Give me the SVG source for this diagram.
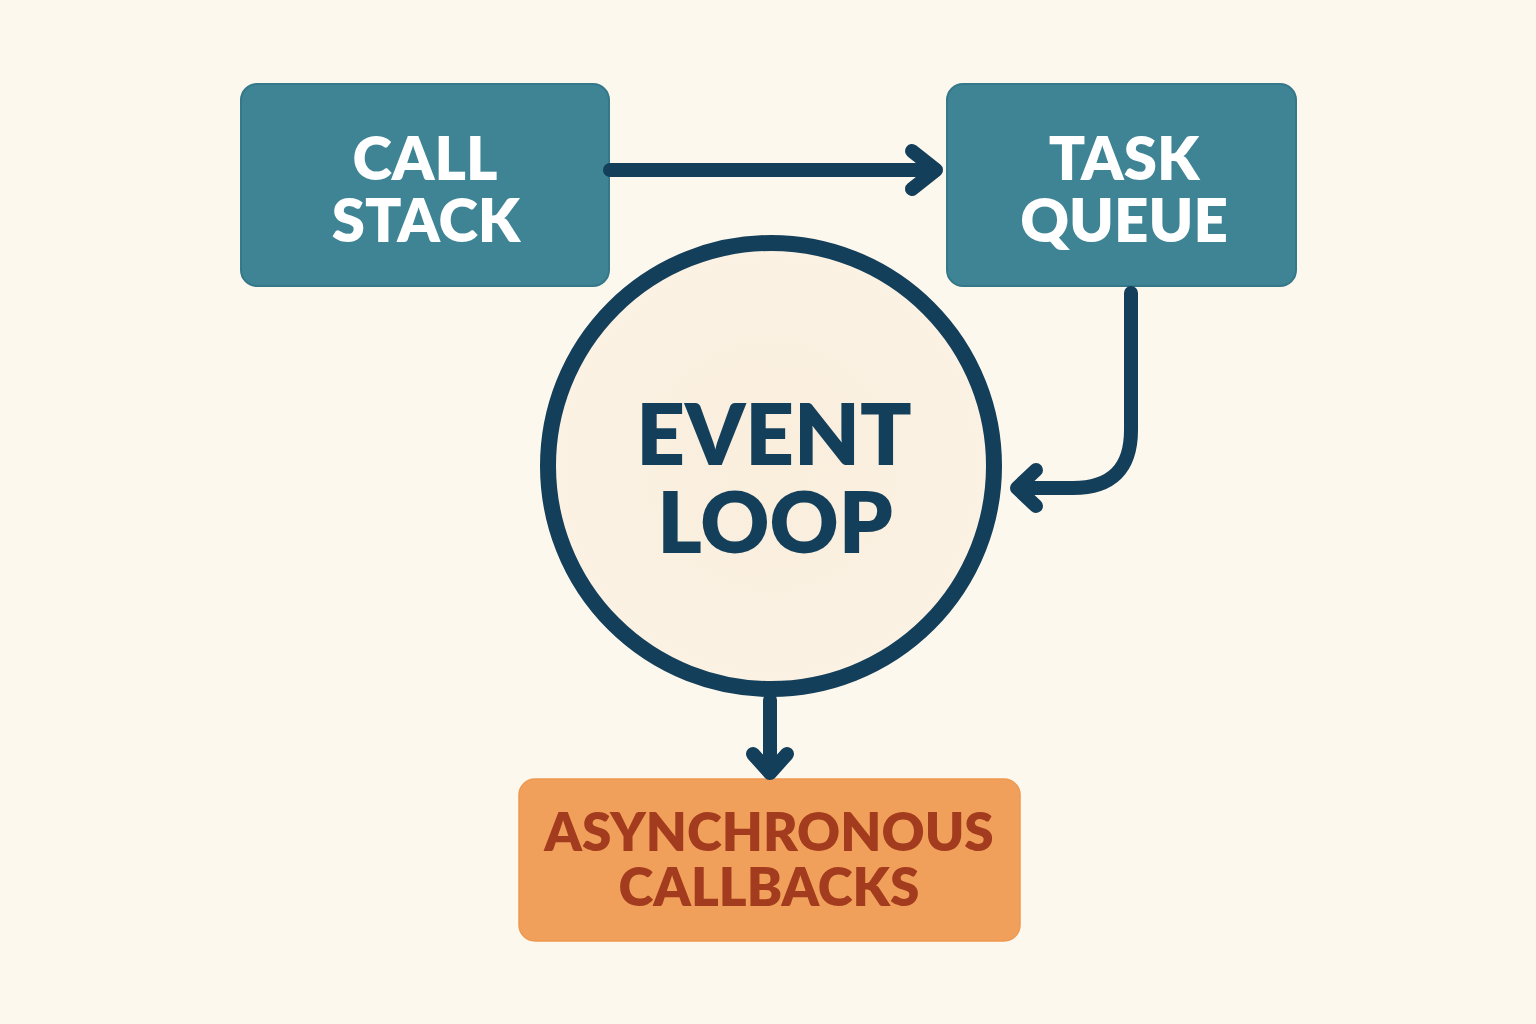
<svg xmlns="http://www.w3.org/2000/svg" width="1536" height="1024" viewBox="0 0 1536 1024">
<defs>
<style>
.box{fill:#3E8494;stroke:#35788A;stroke-width:2}
.lbl{font-family:Lato,"Open Sans","DejaVu Sans",sans-serif;font-weight:800;text-anchor:middle}
.w{fill:#FFFFFF;font-size:60px}
.conn{fill:none;stroke:#143F5A;stroke-width:14;stroke-linecap:round;stroke-linejoin:round}
</style>
<radialGradient id="cg" cx="0.5" cy="0.5" r="0.5">
<stop offset="0" stop-color="#FAEEDC"/>
<stop offset="1" stop-color="#FBF2E4"/>
</radialGradient>
</defs>
<rect width="1536" height="1024" fill="#FCF8EE"/>
<g id="call-stack">
<rect class="box" x="241" y="84" width="368" height="202" rx="16"/>
<text class="lbl w" x="425" y="180">CALL</text>
<text class="lbl w" x="426" y="242">STACK</text>
</g>
<g id="task-queue">
<rect class="box" x="947" y="84" width="349" height="202" rx="16"/>
<text class="lbl w" x="1124" y="180">TASK</text>
<text class="lbl w" x="1124" y="242">QUEUE</text>
</g>
<g id="event-loop">
<circle cx="771" cy="466" r="223" fill="url(#cg)" stroke="#143F5A" stroke-width="16"/>
<text class="lbl" x="774" y="465" fill="#143F5A" font-size="85">EVENT</text>
<text class="lbl" x="775" y="553" fill="#143F5A" font-size="85">LOOP</text>
</g>
<g id="async-callbacks">
<rect x="519" y="779" width="501" height="162" rx="16" fill="#F1A05C" stroke="#EE9850" stroke-width="1.5"/>
<text class="lbl" x="769" y="851" fill="#A33B1E" font-size="53">ASYNCHRONOUS</text>
<text class="lbl" x="769" y="906" fill="#A33B1E" font-size="53">CALLBACKS</text>
</g>
<g id="connectors">
<path class="conn" d="M610 170 H935"/>
<path class="conn" d="M912 151 L936 170 L912 189"/>
<path class="conn" d="M1131 293 V430 Q1131 488 1073 488 H1020"/>
<path class="conn" d="M1036 470 L1017 488 L1036 506"/>
<path class="conn" d="M770 700 V772"/>
<path class="conn" d="M753 754 L770 773 L787 754"/>
</g>
</svg>
